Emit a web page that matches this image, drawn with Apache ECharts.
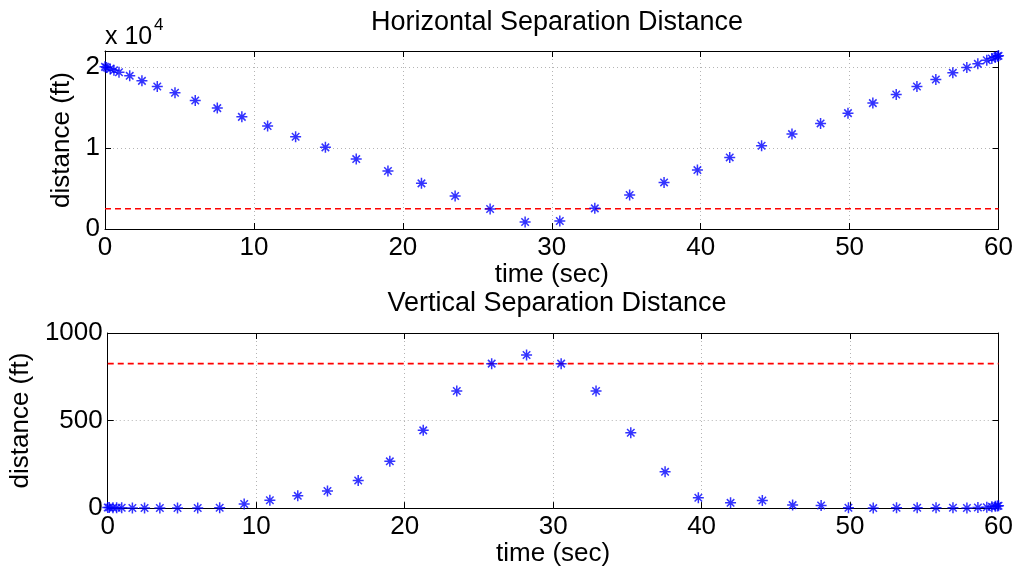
<!DOCTYPE html>
<html><head><meta charset="utf-8">
<script src="https://cdn.jsdelivr.net/npm/echarts@6/dist/echarts.min.js"></script>
<style>html,body{margin:0;padding:0;background:#fff}#c{width:1016px;height:568px}</style>
</head><body><div id="c"></div>
<script>
// ---- data ----
const time = [0, 0.1, 0.35, 0.6, 0.94, 1.66, 2.48, 3.51, 4.70, 6.06, 7.54, 9.19, 10.92, 12.8, 14.8,
  16.87, 19.0, 21.25, 23.51, 25.86, 28.21, 30.54, 32.89, 35.23, 37.54,
  39.78, 41.95, 44.09, 46.13, 48.05, 49.89, 51.56, 53.13, 54.52, 55.79, 56.93,
  57.87, 58.61, 59.21, 59.55, 59.78, 59.92, 60];
const horizontalDist = [20040, 19970, 19790, 19620, 19380, 18930, 18310, 17620, 16830, 15890, 14940, 13860, 12720, 11400, 10090,
  8640, 7160, 5640, 4070, 2470, 860, 990, 2550, 4200, 5760,
  7280, 8850, 10290, 11730, 13050, 14320, 15560, 16630, 17610, 18480, 19300,
  19960, 20410, 20860, 21080, 21230, 21340, 21400];
const verticalDist = [3, 3, 2, 2, 2, 1, 1, 1, 1, 1, 2, 23, 45, 70, 98,
  158, 267, 444, 669, 825, 874, 825, 669, 430, 207,
  59, 30, 43, 17, 15, 2, 0, 2, 2, 2, 2,
  1, 3, 5, 8, 10, 12, 13];
const horizontalLimit = 2500;
const verticalLimit = 825;
const timeRange = [0, 60];
const titles = ['Horizontal Separation Distance', 'Vertical Separation Distance'];
const xName = 'time (sec)';
const yName = 'distance (ft)';

// ---- chart ----
const FONT = 'Liberation Sans, Arial, Helvetica, sans-serif';
const FS = 26;
const star = 'path://M5,0L5,10M0,5L10,5M1.6,1.6L8.4,8.4M1.6,8.4L8.4,1.6';
const pairs = (xs, ys) => xs.map((x, i) => [x, ys[i]]);

const grids = [
  {left: 105, top: 51, width: 894, height: 178},
  {left: 105, top: 333, width: 894, height: 178}
];

function xAxes(gi) {
  return [
    {gridIndex: gi, type: 'value', min: timeRange[0], max: timeRange[1], interval: 10, position: 'bottom',
     name: xName, nameLocation: 'middle', nameGap: 30,
     nameTextStyle: {fontFamily: FONT, fontSize: FS, color: '#000'},
     axisLine: {show: true, lineStyle: {color: '#000', width: 1}},
     axisTick: {show: true, inside: true, length: 6, lineStyle: {color: '#000'}},
     axisLabel: {fontFamily: FONT, fontSize: FS, color: '#000', margin: 6},
     splitLine: {show: true, lineStyle: {color: '#b4b4b4', type: [1, 3], width: 1}}},
    {gridIndex: gi, type: 'value', min: timeRange[0], max: timeRange[1], interval: 10, position: 'top',
     axisLine: {show: true, onZero: false, lineStyle: {color: '#000', width: 1}},
     axisTick: {show: true, inside: true, length: 6, lineStyle: {color: '#000'}},
     axisLabel: {show: false}, splitLine: {show: false}}
  ];
}
function yAxes(gi, max, interval, fmt, gap) {
  return [
    {gridIndex: gi, type: 'value', min: 0, max: max, interval: interval, position: 'left',
     name: yName, nameLocation: 'middle', nameGap: gap,
     nameTextStyle: {fontFamily: FONT, fontSize: FS, color: '#000'},
     axisLine: {show: true, onZero: false, lineStyle: {color: '#000', width: 1}},
     axisTick: {show: true, inside: true, length: 6, lineStyle: {color: '#000'}},
     axisLabel: {fontFamily: FONT, fontSize: FS, color: '#000', margin: 5, formatter: fmt},
     splitLine: {show: true, lineStyle: {color: '#b4b4b4', type: [1, 3], width: 1}}},
    {gridIndex: gi, type: 'value', min: 0, max: max, interval: interval, position: 'right',
     axisLine: {show: true, onZero: false, lineStyle: {color: '#000', width: 1}},
     axisTick: {show: true, inside: true, length: 6, lineStyle: {color: '#000'}},
     axisLabel: {show: false}, splitLine: {show: false}}
  ];
}

const scatterStyle = {color: 'rgba(0,0,0,0)', borderColor: '#0000ff', borderWidth: 1.5};
function limitLine(xi, yi, v) {
  return {type: 'line', xAxisIndex: xi, yAxisIndex: yi, data: [[timeRange[0], v], [timeRange[1], v]],
    symbol: 'none', silent: true, z: 3,
    lineStyle: {color: '#ff0000', width: 1.6, type: [6, 4]}};
}

const option = {
  animation: false,
  backgroundColor: '#fff',
  title: [
    {text: titles[0], left: 552, top: 4, textAlign: 'center',
     textStyle: {fontFamily: FONT, fontSize: 27, fontWeight: 'normal', color: '#000'}},
    {text: titles[1], left: 552, top: 285, textAlign: 'center',
     textStyle: {fontFamily: FONT, fontSize: 27, fontWeight: 'normal', color: '#000'}}
  ],
  graphic: [
    {type: 'text', left: 105, top: 25, style: {text: 'x 10', fontFamily: FONT, fontSize: 25, fill: '#000'}},
    {type: 'text', left: 154, top: 17, style: {text: '4', fontFamily: FONT, fontSize: 17, fill: '#000'}}
  ],
  grid: grids,
  xAxis: [...xAxes(0), ...xAxes(1)],
  yAxis: [
    ...yAxes(0, 22000, 10000, v => (v % 10000 === 0 ? String(v / 10000) : ''), 24),
    ...yAxes(1, 1000, 500, v => String(v), 68)
  ],
  series: [
    limitLine(0, 0, horizontalLimit),
    {type: 'scatter', xAxisIndex: 0, yAxisIndex: 0, data: pairs(time, horizontalDist),
     symbol: star, symbolSize: 11, itemStyle: scatterStyle, z: 4},
    limitLine(2, 2, verticalLimit),
    {type: 'scatter', xAxisIndex: 2, yAxisIndex: 2, data: pairs(time, verticalDist),
     symbol: star, symbolSize: 11, itemStyle: scatterStyle, z: 4}
  ]
};
const chart = echarts.init(document.getElementById('c'), null, {renderer: 'canvas'});
chart.setOption(option);
</script></body></html>
